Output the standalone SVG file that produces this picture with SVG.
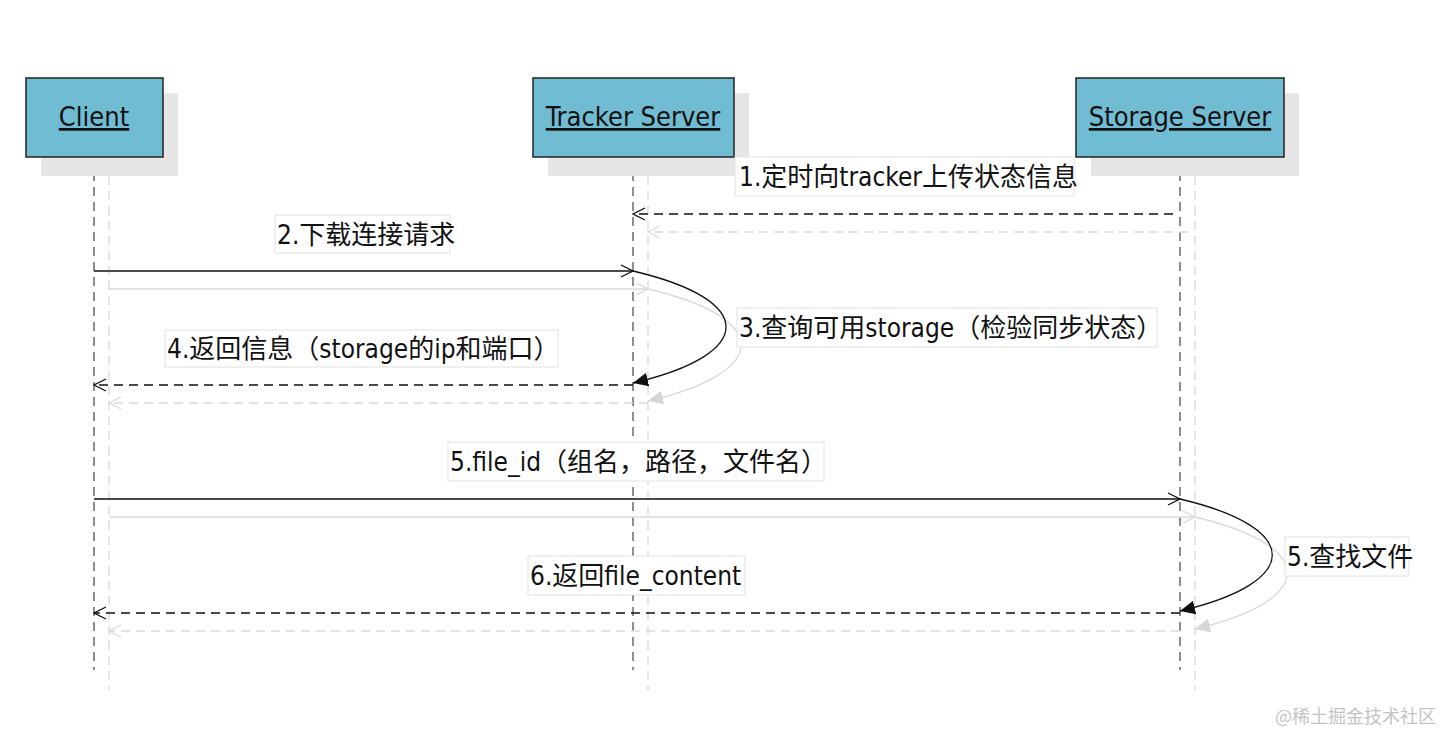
<svg xmlns="http://www.w3.org/2000/svg" width="1442" height="733" viewBox="0 0 1442 733">
<style>
.box{fill:#70bcd3;stroke:#222;stroke-width:1.5}
.shd{fill:#e6e6e6}
.nt{font-family:"DejaVu Sans Condensed","Noto Sans CJK SC",sans-serif;font-size:27px;fill:#111;text-decoration:underline;text-anchor:middle}
.lt{font-family:"DejaVu Sans Condensed","Noto Sans CJK SC",sans-serif;font-size:26px;fill:#111}
.lb{fill:#fff;stroke:#e2e2e2;stroke-width:1}
.ll{stroke:#444;stroke-width:1.2;stroke-dasharray:9 6;fill:none}
.lls{stroke:#d4d4d4;stroke-width:1.2;stroke-dasharray:9 6;fill:none}
.m{stroke:#111;stroke-width:1.3;fill:none}
.ms{stroke:#dadada;stroke-width:1.3;fill:none}
.d{stroke-dasharray:9 6}
</style>
<defs>
<marker id="open" markerWidth="14" markerHeight="14" refX="13" refY="7" orient="auto" markerUnits="userSpaceOnUse"><path d="M1,1 L13,7 L1,13" fill="none" stroke="#111" stroke-width="1.3"/></marker>
<marker id="opens" markerWidth="14" markerHeight="14" refX="13" refY="7" orient="auto" markerUnits="userSpaceOnUse"><path d="M1,1 L13,7 L1,13" fill="none" stroke="#dadada" stroke-width="1.3"/></marker>
<marker id="fill" markerWidth="16" markerHeight="14" refX="15" refY="7" orient="auto" markerUnits="userSpaceOnUse"><path d="M0,0 L15,7 L0,14 Z" fill="#111"/></marker>
<marker id="fills" markerWidth="16" markerHeight="14" refX="15" refY="7" orient="auto" markerUnits="userSpaceOnUse"><path d="M0,0 L15,7 L0,14 Z" fill="#d6d6d6"/></marker>
</defs>
<rect width="1442" height="733" fill="#fff"/>
<g id="lifelines">
<line class="lls" x1="109" y1="176" x2="109" y2="690"/>
<line class="lls" x1="648" y1="176" x2="648" y2="690"/>
<line class="lls" x1="1195" y1="176" x2="1195" y2="690"/>
<line class="ll" x1="94" y1="157" x2="94" y2="670"/>
<line class="ll" x1="633" y1="157" x2="633" y2="670"/>
<line class="ll" x1="1180" y1="157" x2="1180" y2="670"/>
</g>
<g id="client"><rect class="shd" x="41" y="93" width="137" height="83"/><rect class="box" x="26" y="78" width="137" height="79"/><text class="nt" x="94" y="126">Client</text></g>
<g id="tracker"><rect class="shd" x="548" y="93" width="201" height="83"/><rect class="box" x="533" y="78" width="201" height="79"/><text class="nt" x="633" y="126">Tracker Server</text></g>
<g id="storage"><rect class="shd" x="1091" y="93" width="208" height="83"/><rect class="box" x="1076" y="78" width="208" height="79"/><text class="nt" x="1180" y="126">Storage Server</text></g>
<g id="connectors">
<line class="ms d" x1="1188" y1="232" x2="648" y2="232" marker-end="url(#opens)"/>
<line class="m d" x1="1173" y1="214" x2="633" y2="214" marker-end="url(#open)"/>
<line class="ms" x1="109" y1="289" x2="648" y2="289" marker-end="url(#opens)"/>
<line class="m" x1="94" y1="271" x2="633" y2="271" marker-end="url(#open)"/>
<path class="ms" d="M648,289 C772,318 772,372 648,401" marker-end="url(#fills)"/>
<path class="m" d="M633,271 C757,300 757,354 633,383" marker-end="url(#fill)"/>
<line class="ms d" x1="648" y1="403" x2="109" y2="403" marker-end="url(#opens)"/>
<line class="m d" x1="633" y1="385" x2="94" y2="385" marker-end="url(#open)"/>
<line class="ms" x1="109" y1="517" x2="1195" y2="517" marker-end="url(#opens)"/>
<line class="m" x1="94" y1="499" x2="1180" y2="499" marker-end="url(#open)"/>
<path class="ms" d="M1195,517 C1318,546 1318,600 1195,629" marker-end="url(#fills)"/>
<path class="m" d="M1180,499 C1303,528 1303,582 1180,611" marker-end="url(#fill)"/>
<line class="ms d" x1="1180" y1="631" x2="109" y2="631" marker-end="url(#opens)"/>
<line class="m d" x1="1180" y1="613" x2="94" y2="613" marker-end="url(#open)"/>
</g>
<g id="labels">
<rect class="lb" x="735" y="157" width="339" height="39"/><text class="lt" x="739" y="186">1.定时向tracker上传状态信息</text>
<rect class="lb" x="275" y="215" width="175" height="38"/><text class="lt" x="277" y="244">2.下载连接请求</text>
<rect class="lb" x="737" y="308" width="420" height="39"/><text class="lt" x="739" y="337">3.查询可用storage（检验同步状态）</text>
<rect class="lb" x="165" y="330" width="393" height="37"/><text class="lt" x="167" y="358">4.返回信息（storage的ip和端口）</text>
<rect class="lb" x="448" y="442" width="376" height="39"/><text class="lt" x="450" y="471">5.file_id（组名，路径，文件名）</text>
<rect class="lb" x="1285" y="537" width="124" height="39"/><text class="lt" x="1287" y="566">5.查找文件</text>
<rect class="lb" x="528" y="556" width="217" height="39"/><text class="lt" x="530" y="585">6.返回file_content</text>
</g>
<text x="1275" y="723" font-family="Noto Sans CJK SC,sans-serif" font-size="18" fill="#c4c4c4">@稀土掘金技术社区</text>
</svg>
